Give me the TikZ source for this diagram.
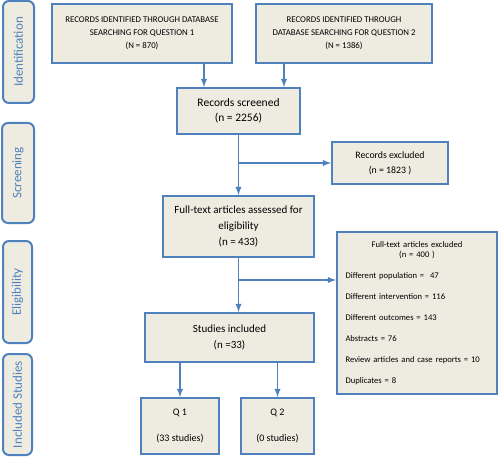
\documentclass[tikz,border=0pt]{standalone}
\usepackage{fontspec}
\setmainfont{Carlito}
\usepackage{xcolor}
\definecolor{boxblue}{HTML}{4F81BD}
\definecolor{boxfill}{HTML}{EEECE1}
\tikzset{box/.style={rectangle, draw=boxblue, fill=boxfill, line width=2pt, inner sep=0pt, align=center, font=\fontsize{11}{16}\selectfont}}
\tikzset{phase/.style={rectangle, rounded corners=6pt, draw=boxblue, fill=boxfill, line width=2pt, inner sep=0pt, text=boxblue, font=\fontsize{13}{15}\selectfont}}
\tikzset{arrow/.style={->, >=latex, draw=boxblue, line width=1.8pt}}

\begin{document}
\begin{tikzpicture}[x=1pt, y=-1pt]
  \useasboundingbox (0,0) rectangle (500,457);

  \node[phase, minimum width=31pt, minimum height=102pt] (ident) at (18.5, 52) {\rotatebox{90}{Identification}};
  \node[phase, minimum width=32pt, minimum height=100pt] (screen) at (18, 173) {\rotatebox{90}{Screening}};
  \node[phase, minimum width=29pt, minimum height=102pt] (elig) at (17.5, 292) {\rotatebox{90}{Eligibility}};
  \node[phase, minimum width=29pt, minimum height=101pt] (incl) at (17.5, 404.5) {\rotatebox{90}{Included Studies}};

  \node[box, minimum width=180pt, minimum height=59pt, font=\fontsize{8.8}{13}\selectfont] (rec1) at (142, 33.5) {RECORDS IDENTIFIED THROUGH DATABASE\\SEARCHING FOR QUESTION 1\\(N = 870)};
  \node[box, minimum width=176pt, minimum height=59pt, font=\fontsize{8.8}{13}\selectfont] (rec2) at (344, 33.5) {RECORDS IDENTIFIED THROUGH\\DATABASE SEARCHING FOR QUESTION 2\\(N = 1386)};
  \node[box, minimum width=123pt, minimum height=46pt, font=\fontsize{11.5}{15}\selectfont] (screened) at (238.5, 111) {Records screened\\(n = 2256)};
  \node[box, minimum width=116pt, minimum height=42pt, font=\fontsize{9.8}{15}\selectfont] (excl) at (390, 163) {Records excluded\\(n = 1823 )};
  \node[box, minimum width=151pt, minimum height=61pt] (assess) at (238.5, 226.5) {Full-text articles assessed for\\eligibility\\(n = 433)};
  \node[box, minimum width=160pt, minimum height=162pt, text width=143pt, align=left, font=\fontsize{8.6}{21}\selectfont] (fexcl) at (417, 313)
    {{\centering\baselineskip=10pt Full-text articles excluded\\(n = 400 )\par}
     Different population = ~47\\
     Different intervention = 116\\
     Different outcomes = 143\\
     Abstracts = 76\\
     Review articles and case reports = 10\\
     Duplicates = 8};
  \node[box, minimum width=169pt, minimum height=49pt] (studies) at (229.5, 337.5) {Studies included\\(n =33)};
  \node[box, minimum width=78pt, minimum height=56pt, font=\fontsize{10}{26}\selectfont] (q1) at (180, 426) {Q 1\\(33 studies)};
  \node[box, minimum width=73pt, minimum height=56pt, font=\fontsize{10}{26}\selectfont] (q2) at (277.5, 426) {Q 2\\(0 studies)};

  \draw[arrow] (rec1.south -| 204,0) -- (screened.north -| 204,0);
  \draw[arrow] (rec2.south -| 284,0) -- (screened.north -| 284,0);
  \draw[arrow] (screened) -- (assess);
  \draw[arrow] (screened.south |- excl.west) -- (excl.west);
  \draw[arrow] (assess.south) -- (assess.south |- studies.north);
  \draw[arrow] (assess.south |- 0,280) -- (fexcl.west |- 0,280);
  \draw[arrow] (studies.south -| q1) -- (q1);
  \draw[arrow] (studies.south -| q2) -- (q2);

\end{tikzpicture}
\end{document}
